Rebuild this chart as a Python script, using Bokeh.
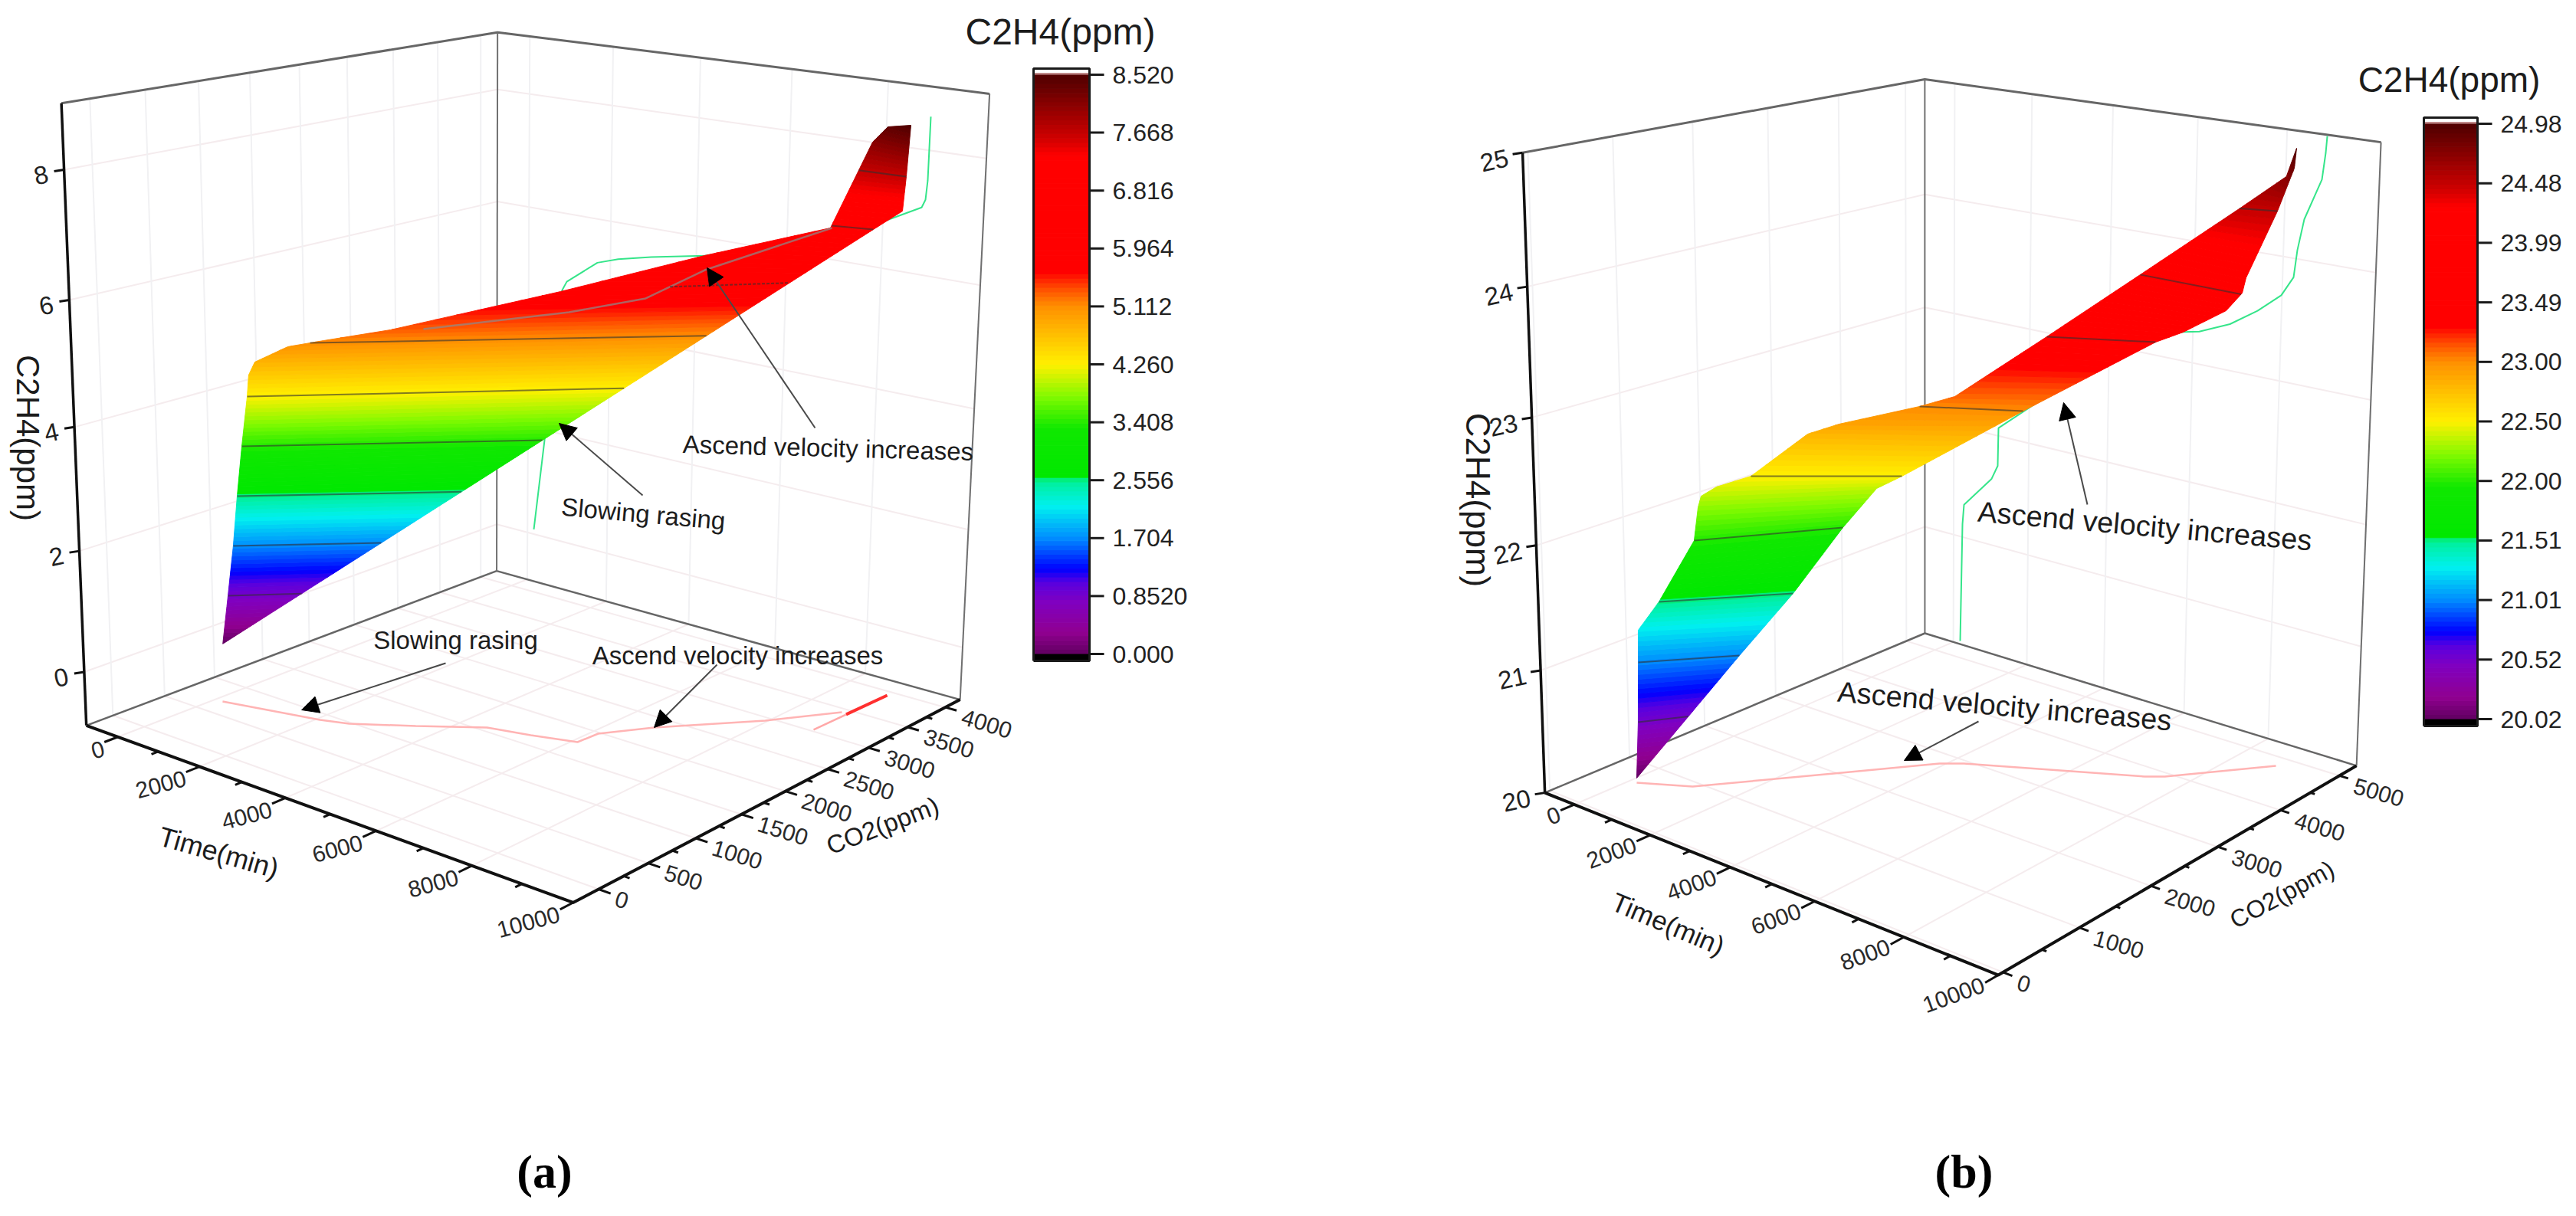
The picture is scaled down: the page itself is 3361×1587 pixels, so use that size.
# -*- coding: utf-8 -*-
# C2H4 against time and CO2, two 3D panels drawn with a perspective camera on one bokeh figure
import numpy as np

from bokeh.plotting import figure
from bokeh.embed import file_html
from bokeh.resources import INLINE
from bokeh.models import Range1d
from bokeh.core.properties import value

# panel (a): edges of the surface
a_upper_time = [0, 155, 270, 389, 545, 744, 751, 805, 1242, 1708, 2556, 4488, 6108, 7685, 8048, 8433, 9047]
a_upper_co2 = [780, 783, 802, 805, 800, 784, 800, 841, 988, 1150, 1456, 2349, 3130, 3729, 3998, 3941, 3837]
a_upper_c2h4 = [0.0, 0.852, 1.704, 2.556, 3.408, 4.26, 4.6, 4.8, 5.05, 5.15, 5.32, 5.85, 6.35, 6.78, 8.1, 8.4, 8.52]
a_lower_time = [0, 8410, 8751, 8851, 9047]
a_lower_co2 = [780, 3820, 3966, 3932, 3837]
a_lower_c2h4 = [0.0, 6.816, 7.1, 7.668, 8.52]
a_fold_time = [2882, 4689, 5751, 6352, 7763]
a_fold_co2 = [1649, 2343, 2650, 2998, 3701]
a_fold_c2h4 = [5.3, 5.55, 5.8, 6.2, 6.8]
# panel (a): projections on the wall and on the floor
a_wall_time = [162, 422, 600, 689, 835, 947, 1688, 2183, 2958, 4190, 6095, 8086, 8772, 8842, 8871, 8878]
a_wall_c2h4 = [0.09, 1.81, 3.42, 4.13, 4.62, 4.79, 5.23, 5.36, 5.50, 5.69, 6.15, 6.79, 7.08, 7.21, 7.52, 8.53]
a_floor_time = [169, 2072, 2577, 3522, 4500, 5295, 6098, 6128, 6686, 7957, 8747]
a_floor_co2 = [697, 898, 980, 1254, 1560, 1651, 1766, 1981, 2328, 2946, 3436]
a_tail_time = [8835, 8904]
a_tail_co2 = [3026, 3927]
a_hot_time = [8862, 8904]
a_hot_co2 = [3420, 3927]
# panel (a): axes
a_time_ticks = [0, 2000, 4000, 6000, 8000, 10000]
a_time_minor = [1000, 3000, 5000, 7000, 9000]
a_co2_ticks = [0, 500, 1000, 1500, 2000, 2500, 3000, 3500, 4000]
a_co2_minor = [250, 750, 1250, 1750, 2250, 2750, 3250, 3750]
a_z_ticks = [0, 2, 4, 6, 8]
a_cb_labels = ["0.000", "0.8520", "1.704", "2.556", "3.408", "4.260", "5.112", "5.964", "6.816", "7.668", "8.520"]

# panel (b): edges of the surface
b_upper_time = [92, 285, 311, 317, 669, 1175, 1178, 1272, 1471, 1924, 2539, 3093, 3991, 4596, 5425, 6797, 8010, 8600, 9038]
b_upper_co2 = [675, 623, 631, 638, 739, 955, 1010, 1006, 1103, 1318, 1743, 1862, 2452, 2588, 3394, 3879, 4550, 4850, 4663]
b_upper_c2h4 = [20.02, 20.52, 21.01, 21.27, 21.51, 22.0, 22.25, 22.35, 22.42, 22.5, 22.8, 22.9, 23.0, 23.1, 23.49, 23.99, 24.48, 24.72, 24.98]
b_lower_time = [92, 1484, 2225, 2732, 3386, 4001, 5605, 7161, 7711, 8748, 9050, 9010, 8656, 9154, 9038]
b_lower_co2 = [675, 1353, 1692, 2099, 2202, 2202, 2944, 3884, 3921, 3832, 3853, 3937, 4677, 4546, 4663]
b_lower_c2h4 = [20.02, 21.01, 21.51, 22.0, 22.35, 22.5, 23.0, 23.49, 23.6, 23.85, 24.0, 24.1, 24.48, 24.85, 24.98]
# panel (b): projections on the wall and on the floor
b_wall_time = [189, 242, 282, 1024, 1185, 1199, 2878, 4755, 5772, 6148, 6850, 7466, 7984, 8242, 8306, 8434, 8786, 8848, 8869]
b_wall_c2h4 = [20.03, 21.12, 21.30, 21.60, 21.73, 22.07, 22.58, 23.11, 23.24, 23.27, 23.38, 23.53, 23.69, 23.85, 24.07, 24.32, 24.65, 24.86, 24.99]
b_floor_time = [164, 1082, 2680, 3898, 4253, 7230, 7516, 8835]
b_floor_co2 = [640, 915, 1975, 2790, 2940, 3804, 3925, 4805]
# panel (b): axes
b_time_ticks = [0, 2000, 4000, 6000, 8000, 10000]
b_time_minor = [1000, 3000, 5000, 7000, 9000]
b_co2_ticks = [0, 1000, 2000, 3000, 4000, 5000]
b_co2_minor = [500, 1500, 2500, 3500, 4500]
b_z_ticks = [20, 21, 22, 23, 24, 25]
b_cb_labels = ["20.02", "20.52", "21.01", "21.51", "22.00", "22.50", "23.00", "23.49", "23.99", "24.48", "24.98"]

# colour map, position along the colour bar and colour
cmap_pos = [0.0, 0.037, 0.09, 0.124, 0.147, 0.20, 0.255, 0.30, 0.305, 0.39, 0.444, 0.50, 0.60, 0.63, 0.66, 0.86, 0.89, 0.93, 0.97, 1.0]
cmap_rgb = [(96, 0, 96), (144, 0, 144), (128, 0, 192), (88, 0, 224), (0, 0, 255), (0, 140, 255), (0, 240, 240), (0, 240, 150),
            (0, 232, 0), (16, 232, 0), (128, 250, 0), (255, 240, 0), (255, 144, 0), (255, 80, 0), (255, 0, 0), (255, 0, 0),
            (208, 0, 0), (160, 0, 0), (112, 0, 0), (80, 0, 0)]
N_BANDS = 128

FONT = value("Liberation Sans")
GRID_H = "#f5ecee"
GRID_V = "#f1f1f3"


def band_color(f):
    r, g, b = [int(round(np.interp(f, cmap_pos, [c[i] for c in cmap_rgb]))) for i in range(3)]
    return "#%02x%02x%02x" % (r, g, b)


def fit_camera(t_rng, c_rng, z_rng, corners):
    """Projective camera from the seven visible corners of the box (no front top corner)"""
    keys = [(0, 0, 0), (1, 0, 0), (1, 1, 0), (0, 1, 0), (0, 0, 1), (1, 1, 1), (0, 1, 1)]
    A, b = [], []
    for k, (u, v) in zip(keys, corners):
        X = [(t_rng[k[0]]) / 10000, (c_rng[k[1]]) / 1000, (z_rng[k[2]]) / 10]
        A.append(X + [1, 0, 0, 0, 0, -u * X[0], -u * X[1], -u * X[2]])
        b.append(u)
        A.append([0, 0, 0, 0] + X + [1, -v * X[0], -v * X[1], -v * X[2]])
        b.append(v)
    s = np.linalg.lstsq(np.array(A, float), np.array(b, float), rcond=None)[0]
    return np.append(s, 1).reshape(3, 4) * np.array([1e-4, 1e-3, 0.1, 1])


def project(P, t, c, z):
    t, c, z = np.broadcast_arrays(np.asarray(t, float), np.asarray(c, float), np.asarray(z, float))
    X = np.stack([t, c, z, np.ones_like(t)])
    w = P[2] @ X
    return (P[0] @ X / w).tolist(), (P[1] @ X / w).tolist()


def chain_at(chain, z):
    return np.interp(z, chain[2], chain[0]), np.interp(z, chain[2], chain[1])


def chain_cut(chain, z0, z1):
    zs = np.asarray(chain[2])
    inner = (zs > z0) & (zs < z1)
    t = [chain_at(chain, z0)[0]] + list(np.asarray(chain[0])[inner]) + [chain_at(chain, z1)[0]]
    c = [chain_at(chain, z0)[1]] + list(np.asarray(chain[1])[inner]) + [chain_at(chain, z1)[1]]
    z = [z0] + list(zs[inner]) + [z1]
    return t, c, z


def arrow(p, x0, y0, x1, y1):
    d = np.array([x1 - x0, y1 - y0], float)
    d /= np.hypot(*d)
    n = np.array([-d[1], d[0]])
    base = np.array([x1, y1]) - 22 * d
    p.line([x0, base[0]], [y0, base[1]], line_color="#4a4a4a", line_width=2)
    p.patch([x1, base[0] + 11 * n[0], base[0] - 11 * n[0]], [y1, base[1] + 11 * n[1], base[1] - 11 * n[1]],
            fill_color="black", line_color="black", line_width=1)


def draw_panel(p, t_rng, c_rng, z_rng, corners, upper, lower, wall, floor, time_ticks, time_minor, co2_ticks, co2_minor, z_ticks,
               cb_labels, cb, tick_style, iso_levels):
    P = fit_camera(t_rng, c_rng, z_rng, corners)
    t0, t1 = t_rng
    c0, c1 = c_rng
    z0, z1 = z_rng

    # walls and floor grid
    for z in z_ticks:
        p.line(*project(P, [t0, t0, t1], [c0, c1, c1], z), line_color=GRID_H, line_width=2)
    for c in co2_ticks:
        p.line(*project(P, t0, c, [z0, z1]), line_color=GRID_V, line_width=2)
        p.line(*project(P, [t0, t1], c, z0), line_color=GRID_H, line_width=2)
    for t in time_ticks:
        p.line(*project(P, t, c1, [z0, z1]), line_color=GRID_V, line_width=2)
        p.line(*project(P, t, [c0, c1], z0), line_color=GRID_H, line_width=2)

    # box
    p.line(*project(P, [t0, t0, t1], [c0, c1, c1], z1), line_color="#666666", line_width=3)
    p.line(*project(P, [t0, t0, t1], [c0, c1, c1], z0), line_color="#666666", line_width=2.5)
    p.line(*project(P, t0, c1, [z0, z1]), line_color="#707070", line_width=2)
    p.line(*project(P, t1, c1, [z0, z1]), line_color="#707070", line_width=2)
    p.line(*project(P, t0, c0, [z0, z1]), line_color="#111111", line_width=3.5)
    p.line(*project(P, [t0, t1, t1], [c0, c0, c1], z0), line_color="#111111", line_width=4)

    # projections of the curve
    p.line(*project(P, wall[0], c1, wall[1]), line_color="#35e58a", line_width=2)
    p.line(*project(P, floor[0], floor[1], z0), line_color="#ffb4b4", line_width=2.5)

    # surface, one polygon for each colour level
    edges = np.linspace(cb["z_min"], cb["z_max"], N_BANDS + 1)
    colors = [band_color((i + 0.5) / N_BANDS) for i in range(N_BANDS)]
    xs, ys = [], []
    for i in range(N_BANDS):
        ta, ca, za = chain_cut(upper, edges[i], edges[i + 1])
        tb, cb2, zb = chain_cut(lower, edges[i], edges[i + 1])
        u, v = project(P, ta + tb[::-1], ca + cb2[::-1], za + zb[::-1])
        xs.append(u)
        ys.append(v)
    p.patches(xs, ys, fill_color=colors, line_color=colors, line_width=1)

    # contour lines
    for z in iso_levels:
        ta, ca = chain_at(upper, z)
        tb, cb2 = chain_at(lower, z)
        p.line(*project(P, [ta, tb], [ca, cb2], z), line_color="#303030", line_width=2, line_alpha=0.6)

    # ticks and labels of the time axis
    sty = tick_style
    for t in time_ticks:
        u, v = project(P, t, [c0, c0 - sty["t_len"]], z0)
        p.line(u, v, line_color="#111111", line_width=3)
        p.text([u[0] + sty["t_dx"]], [v[0] + sty["t_dy"]], text=[str(t)], text_font=FONT, text_font_size="30px", text_color="#2a2a2a",
               text_align="right", text_baseline="middle", angle=sty["t_angle"], angle_units="deg")
    for t in time_minor:
        p.line(*project(P, t, [c0, c0 - sty["t_len"] / 2], z0), line_color="#111111", line_width=3)

    # ticks and labels of the CO2 axis
    for c in co2_ticks:
        u, v = project(P, [t1, t1 + sty["c_len"]], c, z0)
        p.line(u, v, line_color="#111111", line_width=3)
        p.text([u[0] + sty["c_dx"]], [v[0] + sty["c_dy"]], text=[str(c)], text_font=FONT, text_font_size="30px", text_color="#2a2a2a",
               text_align="left", text_baseline="middle", angle=sty["c_angle"], angle_units="deg")
    for c in co2_minor:
        p.line(*project(P, [t1, t1 + sty["c_len"] / 2], c, z0), line_color="#111111", line_width=3)

    # ticks and labels of the C2H4 axis
    for z in z_ticks:
        u, v = project(P, t0, c0, z)
        p.line([u, u - 13], [v, v + 2], line_color="#111111", line_width=3)
        p.text([u + sty["z_dx"]], [v + sty["z_dy"]], text=[str(z)], text_font=FONT, text_font_size="33px", text_color="#222222",
               text_align="center", text_baseline="middle", angle=12, angle_units="deg")

    # colour bar
    y_of = lambda z: cb["y_bot"] + (z - cb["z_min"]) / (cb["z_max"] - cb["z_min"]) * (cb["y_top"] - cb["y_bot"])
    p.quad(left=cb["x0"], right=cb["x1"], bottom=y_of(edges[:-1]).tolist(), top=y_of(edges[1:]).tolist(), fill_color=colors, line_color=colors, line_width=1)
    p.quad(left=cb["x0"], right=cb["x1"], bottom=cb["y_top"], top=cb["y_top"] - 2.5, fill_color="#c08a8a", line_color=None)
    p.quad(left=cb["x0"], right=cb["x1"], bottom=cb["y_top"] - 2.5, top=cb["frame_top"], fill_color="white", line_color=None)
    p.quad(left=cb["x0"], right=cb["x1"], bottom=cb["frame_bot"], top=cb["y_bot"], fill_color="black", line_color=None)
    p.line([cb["x0"], cb["x0"], cb["x1"], cb["x1"], cb["x0"]], [cb["frame_bot"], cb["frame_top"], cb["frame_top"], cb["frame_bot"], cb["frame_bot"]],
           line_color="#1a1a1a", line_width=3)
    tick_z = np.linspace(cb["z_min"], cb["z_max"], len(cb_labels))
    for z, lab in zip(tick_z, cb_labels):
        y = float(y_of(z))
        p.line([cb["x1"], cb["x1"] + 19], [y, y], line_color="#1a1a1a", line_width=3)
        p.text([cb["x1"] + 30], [y], text=[lab], text_font=FONT, text_font_size="32px", text_color="#222222", text_align="left", text_baseline="middle")
    return P


def label(p, x, y, txt, size, angle=0):
    p.text([x], [y], text=[txt], text_font=FONT, text_font_size=size, text_color="#1c1c1c", text_align="center", text_baseline="middle",
           angle=angle, angle_units="deg")


p = figure(width=3345, height=1571, x_range=Range1d(8, 3353), y_range=Range1d(1579, 8), output_backend="svg", toolbar_location=None,
           min_border=0, outline_line_color=None, background_fill_color="white", border_fill_color="white")
p.axis.visible = False
p.grid.visible = False

# panel (a)
Pa = draw_panel(p, (-800, 10000), (-250, 4200), (-0.9, 9.0),
                [(120, 955), (755, 1185), (1260, 921), (656, 752), (88, 142), (1299, 130), (656, 50)],
                (a_upper_time, a_upper_co2, a_upper_c2h4), (a_lower_time, a_lower_co2, a_lower_c2h4),
                (a_wall_time, a_wall_c2h4), (a_floor_time, a_floor_co2),
                a_time_ticks, a_time_minor, a_co2_ticks, a_co2_minor, a_z_ticks, a_cb_labels,
                dict(z_min=0.0, z_max=8.52, y_bot=861, y_top=105, frame_bot=870, frame_top=97, x0=1356, x1=1429),
                dict(t_len=125, t_dx=-18, t_dy=15, t_angle=15, c_len=230, c_dx=22, c_dy=12, c_angle=-17, z_dx=-30, z_dy=7),
                [0.852, 1.704, 2.556, 3.408, 4.26, 5.112, 6.816, 7.668])
p.line(*project(Pa, a_fold_time, a_fold_co2, a_fold_c2h4), line_color="#8c8c8c", line_width=2.5, line_alpha=0.7)
# the 5.964 contour only runs from the fold to the lower edge
fold = (a_fold_time, a_fold_co2, a_fold_c2h4)
lower_a = (a_lower_time, a_lower_co2, a_lower_c2h4)
tf, cf = chain_at(fold, 5.964)
tl, cl = chain_at(lower_a, 5.964)
p.line(*project(Pa, [tf, tl], [cf, cl], 5.964), line_color="#303030", line_width=2, line_alpha=0.6, line_dash="4 2")
p.line(*project(Pa, a_tail_time, a_tail_co2, -0.9), line_color="#ffa8a8", line_width=2.5)
p.line(*project(Pa, a_hot_time, a_hot_co2, -0.9), line_color="#ff3030", line_width=4)

label(p, 1391, 49, "C2H4(ppm)", "48px")
label(p, 44, 579, "C2H4(ppm)", "42px", -90)
label(p, 293, 1120, "Time(min)", "36px", -16)
label(p, 1159, 1085, "CO2(ppm)", "33px", 21)
label(p, 1088, 592, "Ascend velocity increases", "33px", -1.5)
label(p, 847, 678, "Slowing rasing", "33px", -5)
label(p, 602, 843, "Slowing rasing", "33px")
label(p, 970, 863, "Ascend velocity increases", "33px")
arrow(p, 1071, 566, 930, 357)
arrow(p, 846, 654, 737, 560)
arrow(p, 589, 873, 401, 934)
arrow(p, 943, 875, 861, 957)

# panel (b)
Pb = draw_panel(p, (-800, 10000), (-60, 5300), (20.0, 25.0),
                [(2023, 1042), (2615, 1280), (3082, 1007), (2519, 834), (1994, 207), (3114, 193), (2519, 111)],
                (b_upper_time, b_upper_co2, b_upper_c2h4), (b_lower_time, b_lower_co2, b_lower_c2h4),
                (b_wall_time, b_wall_c2h4), (b_floor_time, b_floor_co2),
                b_time_ticks, b_time_minor, b_co2_ticks, b_co2_minor, b_z_ticks, b_cb_labels,
                dict(z_min=20.02, z_max=24.98, y_bot=946, y_top=169, frame_bot=955, frame_top=161, x0=3170, x1=3240),
                dict(t_len=165, t_dx=-19, t_dy=12, t_angle=20, c_len=190, c_dx=19, c_dy=13, c_angle=-16, z_dx=-37, z_dy=10),
                [20.52, 21.01, 21.51, 22.0, 22.5, 23.0, 23.49, 23.99, 24.48])

label(p, 3203, 111, "C2H4(ppm)", "46px")
label(p, 1936, 660, "C2H4(ppm)", "44px", -90)
label(p, 2184, 1213, "Time(min)", "35px", -23)
label(p, 2985, 1175, "CO2(ppm)", "32px", 28.5)
label(p, 2806, 694, "Ascend velocity increases", "38px", -5)
label(p, 2623, 929, "Ascend velocity increases", "38px", -5)
arrow(p, 2731, 666, 2700, 533)
arrow(p, 2589, 949, 2492, 1000)

# sub-figure letters
p.text([718, 2570], [1536, 1536], text=["(a)", "(b)"], text_font=value("Liberation Serif"), text_font_style="bold", text_font_size="62px",
       text_color="black", text_align="center", text_baseline="middle")

open("out.html", "w").write(file_html(p, INLINE))
